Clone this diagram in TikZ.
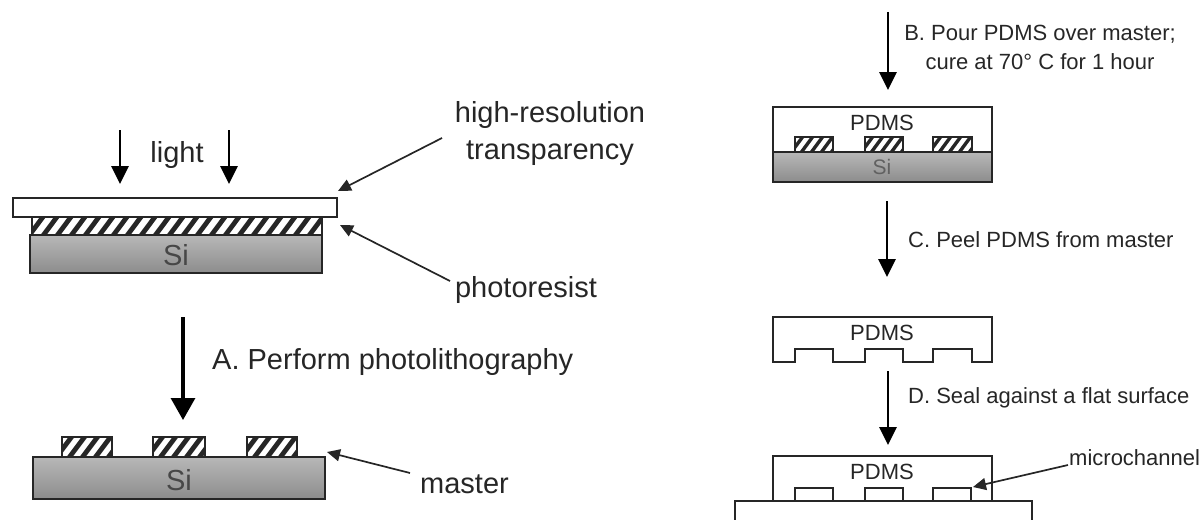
\documentclass[tikz,border=0pt]{standalone}
\usepackage{fontspec}
\setmainfont{Liberation Sans}
\usetikzlibrary{arrows.meta}
\newcommand{\hatchrect}[6]{% x1 y1 x2 y2 spacing stripewidth
  \begin{scope}
    \clip (#1,#2) rectangle (#3,#4);
    \fill[white] (#1,#2) rectangle (#3,#4);
    \pgfmathsetmacro\hh{#4-#2}
    \pgfmathsetmacro\ddx{0.8*\hh}
    \pgfmathsetmacro\hstart{#1-\hh}
    \pgfmathsetmacro\hsecond{\hstart+#5}
    \foreach \s in {\hstart,\hsecond,...,#3}
      \draw[line width=#6, black!85] (\s,#4+2) -- ++(\ddx+2,-\hh-4);
  \end{scope}
  \draw[layer] (#1,#2) rectangle (#3,#4);}
\begin{document}
\begin{tikzpicture}[x=1pt,y=-1pt,
  layer/.style={draw=black!85, line width=1.9pt},
  sil/.style={layer, top color=black!28, bottom color=black!45},
  bigarrow/.style={draw=black, line width=2.8pt, -{Triangle[width=17pt,length=18pt]}},
  bigarrowA/.style={draw=black, line width=3.2pt, -{Triangle[width=24pt,length=22pt]}},
  pointer/.style={draw=black!85, line width=1.7pt, -{Triangle[width=12pt,length=13pt]}},
  lbl/.style={text=black!85, inner sep=0pt, font=\fontsize{29}{37}\selectfont},
  rlbl/.style={text=black!85, inner sep=0pt, font=\fontsize{22}{29}\selectfont},
  sitxt/.style={text=black!72, inner sep=0pt, font=\fontsize{29}{30}\selectfont},
  rsitxt/.style={text=black!62, inner sep=0pt, font=\fontsize{21}{22}\selectfont},
]
\useasboundingbox (0,0) rectangle (1201,519);

% ---------- Left: exposure ----------
\coordinate (l1s) at (120,130); \coordinate (l1e) at (120,184);
\coordinate (l2s) at (229,130); \coordinate (l2e) at (229,184);
\draw[bigarrow] (l1s) -- (l1e);
\draw[bigarrow] (l2s) -- (l2e);
\node[lbl] (light) at (177,155) {light};

\draw[layer, fill=white] (13,198) rectangle (337,217);
\hatchrect{32}{217}{322}{235}{14}{4.8pt}
\draw[sil] (30,235) rectangle (322,273);
\node[sitxt] (si1) at (176,255) {Si};

\node[lbl, align=center] (hr) at (550,134) {high-resolution\\transparency};
\coordinate (hrS) at (442,138); \coordinate (hrT) at (338,191);
\draw[pointer] (hrS) -- (hrT);

\node[lbl] (pr) at (526,290) {photoresist};
\coordinate (prS) at (450,281); \coordinate (prT) at (340,225);
\draw[pointer] (prS) -- (prT);

% ---------- Step A ----------
\coordinate (aS) at (183,317); \coordinate (aE) at (183,420);
\draw[bigarrowA] (aS) -- (aE);
\node[lbl, anchor=west] (stepA) at (212,362) {A. Perform photolithography};

% ---------- Master ----------
\hatchrect{62}{437}{112}{457}{13}{4.8pt}
\hatchrect{153}{437}{205}{457}{13}{4.8pt}
\hatchrect{247}{437}{297}{457}{13}{4.8pt}
\draw[sil] (33,457) rectangle (325,499);
\node[sitxt] (si2) at (179,480) {Si};
\node[lbl, anchor=west] (ms) at (420,484) {master};
\coordinate (msS) at (410,473); \coordinate (msT) at (327,452);
\draw[pointer] (msS) -- (msT);

% ---------- Right: step B ----------
\coordinate (bS) at (888,12); \coordinate (bE) at (888,90);
\draw[bigarrow] (bS) -- (bE);
\node[rlbl, align=center] (stepB) at (1040,47) {B. Pour PDMS over master;\\cure at 70° C for 1 hour};

\draw[layer, fill=white] (773,107) rectangle (992,152);
\node[rlbl] (pd1) at (882,123) {PDMS};
\hatchrect{795}{137}{833}{152}{10}{3.4pt}
\hatchrect{865}{137}{903}{152}{10}{3.4pt}
\hatchrect{933}{137}{972}{152}{10}{3.4pt}
\draw[sil] (773,152) rectangle (992,182);
\node[rsitxt] (si3) at (882,167) {Si};

% ---------- Step C ----------
\coordinate (cS) at (887,201); \coordinate (cE) at (887,277);
\draw[bigarrow] (cS) -- (cE);
\node[rlbl, anchor=west] (stepC) at (908,240) {C. Peel PDMS from master};

\draw[layer, fill=white] (773,317) -- (992,317) -- (992,362) -- (972,362) -- (972,349)
  -- (933,349) -- (933,362) -- (903,362) -- (903,349) -- (865,349) -- (865,362)
  -- (833,362) -- (833,349) -- (795,349) -- (795,362) -- (773,362) -- cycle;
\node[rlbl] (pd2) at (882,333) {PDMS};

% ---------- Step D ----------
\coordinate (dS) at (888,371); \coordinate (dE) at (888,445);
\draw[bigarrow] (dS) -- (dE);
\node[rlbl, anchor=west] (stepD) at (908,398) {D. Seal against a flat surface};

\draw[layer, fill=white] (773,456) rectangle (992,501);
\draw[layer] (795,501) -- (795,488) -- (833,488) -- (833,501);
\draw[layer] (865,501) -- (865,488) -- (903,488) -- (903,501);
\draw[layer] (933,501) -- (933,488) -- (971,488) -- (971,501);
\node[rlbl] (pd3) at (882,472) {PDMS};
\draw[layer, fill=white] (735,501) rectangle (1032,530);

\node[rlbl, anchor=west] (mc) at (1069,458) {microchannel};
\coordinate (mcS) at (1068,465); \coordinate (mcT) at (973,487);
\draw[pointer] (mcS) -- (mcT);
\end{tikzpicture}
\end{document}
